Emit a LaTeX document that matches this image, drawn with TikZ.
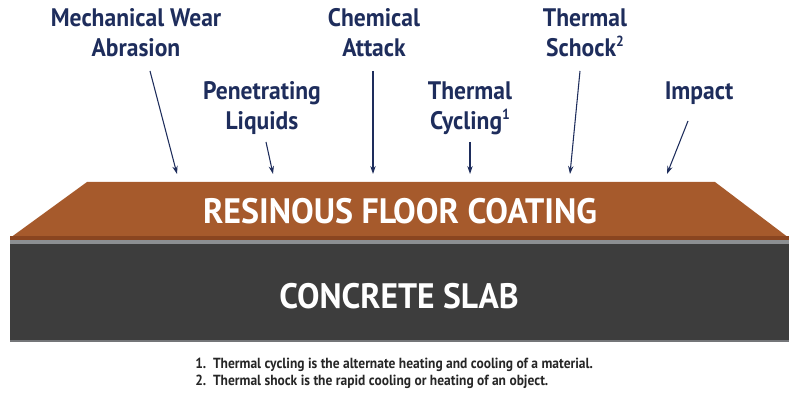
\documentclass[tikz,border=0pt]{standalone}
\usepackage{fontspec}
\setmainfont{PT Sans}
\usetikzlibrary{arrows.meta}
\definecolor{navy}{HTML}{1E2D5C}
\definecolor{coat}{HTML}{A65A2C}
\definecolor{coatdark}{HTML}{8A4520}
\definecolor{slab}{HTML}{3D3D3D}
\definecolor{slabedge}{HTML}{8C8F92}
\newcommand{\sq}[1]{\scalebox{0.93}[1]{#1}}
\newcommand{\supnum}[1]{\raisebox{0.42em}{\fontsize{11}{11}\selectfont #1}}
\tikzset{
  lab/.style={text=navy, font=\bfseries\fontsize{19}{23}\selectfont, align=center, inner sep=0pt, anchor=base},
  ptr/.style={draw=navy, line width=0.8pt, -{Stealth[length=6pt,width=4pt]}},
  big/.style={text=white, font=\bfseries\fontsize{26.5}{30}\selectfont, inner sep=0pt},
  note/.style={text=black!85, font=\bfseries\fontsize{11}{13}\selectfont, anchor=base west, inner sep=0pt}
}
\begin{document}
\begin{tikzpicture}[x=0.75pt,y=-0.75pt]
\useasboundingbox (0,0) rectangle (800,402);
% layers
\fill[slab] (10,241) rectangle (789,342);
\fill[slabedge] (10,240) rectangle (789,244);
\fill[slabedge!70!slab] (10,340) rectangle (789,342);
\fill[coat] (87,182) -- (715,182) -- (789,238) -- (10,238) -- cycle;
\fill[coatdark] (10,236) rectangle (789,240);
% big texts
\node[big] (coating) at (400,211) {\scalebox{0.96}[1]{RESINOUS FLOOR COATING}};
\node[big] (slabtxt) at (399,296) {\scalebox{0.95}[1]{CONCRETE SLAB}};
% labels (anchor = baseline of last line)
\node[lab] (mech) at (136,57) {\sq{Mechanical Wear}\\\sq{Abrasion}};
\node[lab] (chem) at (374,57) {\sq{Chemical}\\\sq{Attack}};
\node[lab] (shock) at (585,57) {\sq{Thermal}\\\sq{Schock\supnum{2}}};
\node[lab] (pen) at (262,130) {\sq{Penetrating}\\\sq{Liquids}};
\node[lab] (cyc) at (470,130) {\sq{Thermal}\\\sq{Cycling\supnum{1}}};
\node[lab] (imp) at (699,100) {\sq{Impact}};
% arrow coordinates
\coordinate (m1) at (150,71);  \coordinate (m2) at (177,174);
\coordinate (p1) at (266,142); \coordinate (p2) at (273,174);
\coordinate (c1) at (373,71);  \coordinate (c2) at (373,174);
\coordinate (t1) at (470,142); \coordinate (t2) at (470,174);
\coordinate (s1) at (580,71);  \coordinate (s2) at (570,174);
\coordinate (i1) at (688,121); \coordinate (i2) at (667,174);
\draw[ptr] (m1) -- (m2);
\draw[ptr] (p1) -- (p2);
\draw[ptr] (c1) -- (c2);
\draw[ptr] (t1) -- (t2);
\draw[ptr] (s1) -- (s2);
\draw[ptr] (i1) -- (i2);
% notes
\node[note] (n1) at (195,369) {\scalebox{0.92}[1]{1.\ \ Thermal cycling is the alternate heating and cooling of a material.}};
\node[note] (n2) at (195,386) {\scalebox{0.92}[1]{2.\ \ Thermal shock is the rapid cooling or heating of an object.}};
\end{tikzpicture}
\end{document}
